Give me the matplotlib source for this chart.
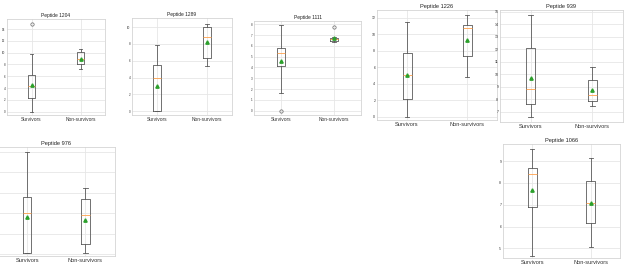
import matplotlib
matplotlib.use("Agg")
import matplotlib.pyplot as plt

# ---------- data ----------
PEPTIDES = ["Peptide 1204", "Peptide 1289", "Peptide 1111", "Peptide 1226",
            "Peptide 939", "Peptide 976", "Peptide 1066"]
GROUPS = ["Survivors", "Non-survivors"]

# each entry: [survivors, non-survivors]
WHISLO = [[0.0, 7.3], [0.0, 5.4], [1.6, 6.35], [0.0, 4.8], [6.6, 7.5], [0.1, 0.1], [4.65, 5.05]]
Q1     = [[2.3, 8.0], [0.0, 6.3], [4.1, 6.45], [2.2, 7.4], [7.6, 7.85], [0.1, 0.95], [6.9, 6.15]]
MED    = [[4.4, 9.0], [4.0, 8.8], [5.35, 6.6], [5.0, 10.7], [8.8, 8.35], [4.05, 3.8], [8.4, 7.1]]
Q3     = [[6.2, 10.1], [5.5, 10.0], [5.8, 6.75], [7.7, 11.1], [12.1, 9.55], [5.6, 5.35], [8.67, 8.1]]
WHISHI = [[9.8, 10.7], [7.9, 10.4], [7.95, 6.85], [11.5, 12.3], [14.7, 10.55], [10.0, 6.5], [9.55, 9.15]]
MEANS  = [[4.45, 8.95], [3.0, 8.2], [4.6, 6.75], [5.0, 9.3], [9.7, 8.75], [3.65, 3.3], [7.67, 7.08]]
FLIERS = [[[14.8], []], [[], []], [[0.0], [7.7]], [[], []], [[], []], [[], []], [[], []]]

YTICKS = [range(0, 15, 2), range(0, 11, 2), range(0, 9), range(0, 13, 2),
          range(7, 16), range(0, 11, 2), range(5, 10)]
YLIMS = [(-0.56, 15.7), (-0.44, 11.07), (-0.4, 8.3), (-0.4, 12.93),
         (6.2, 15.13), (-0.2, 10.5), (4.56, 9.78)]

# axes boxes in pixels: left, top, right, bottom
BOXES = [(7, 19, 105, 115), (132, 18, 232, 115), (254, 21, 361, 115),
         (377, 10, 497, 120), (500, 10, 623, 122), (-2, 147, 114.5, 256),
         (503, 144, 620, 258)]
FONT = [3.5, 3.5, 3.5, 4.1, 4.1, 4.1, 4.1]
SHOW_YLABELS = [True, True, True, True, True, False, True]  # 976 is cropped at the left edge

W, H = 627, 270

plt.rcParams["font.family"] = ["Liberation Sans", "DejaVu Sans"]

fig = plt.figure(figsize=(W / 100, H / 100), dpi=100)
fig.patch.set_facecolor("white")

line = dict(color="#5a5a5a", linewidth=0.6)

for i, name in enumerate(PEPTIDES):
    l, t, r, b = BOXES[i]
    ax = fig.add_axes([l / W, 1 - b / H, (r - l) / W, (b - t) / H])
    stats = []
    for g in range(2):
        stats.append(dict(label=GROUPS[g], whislo=WHISLO[i][g], q1=Q1[i][g],
                          med=MED[i][g], q3=Q3[i][g], whishi=WHISHI[i][g],
                          mean=MEANS[i][g], fliers=FLIERS[i][g]))
    ax.bxp(stats, positions=[1, 2], widths=0.15, showmeans=True,
           boxprops=line, whiskerprops=line, capprops=line,
           medianprops=dict(color="#ffa04a", linewidth=0.6),
           meanprops=dict(marker="^", markerfacecolor="#2ca02c",
                          markeredgecolor="#2ca02c", markersize=2.4),
           flierprops=dict(marker="o", markerfacecolor="none",
                           markeredgecolor="#666666", markersize=2.4,
                           markeredgewidth=0.5))
    ax.set_xlim(0.5, 2.5)
    ax.set_ylim(*YLIMS[i])
    ax.set_yticks(list(YTICKS[i]))
    ax.set_facecolor("white")
    ax.grid(True, color="#e6e6e6", linewidth=0.6)
    ax.set_axisbelow(True)
    for s in ax.spines.values():
        s.set_color("#d4d4d4")
        s.set_linewidth(0.6)
    fs = FONT[i]
    ax.tick_params(length=0, pad=1.2, labelcolor="#333333")
    ax.tick_params(axis="x", labelsize=fs)
    ax.tick_params(axis="y", labelsize=fs * 0.62, labelleft=SHOW_YLABELS[i])
    ax.set_title(name, fontsize=fs, pad=1.6, color="#222222")

fig.savefig("out.png", dpi=100, facecolor="white")
